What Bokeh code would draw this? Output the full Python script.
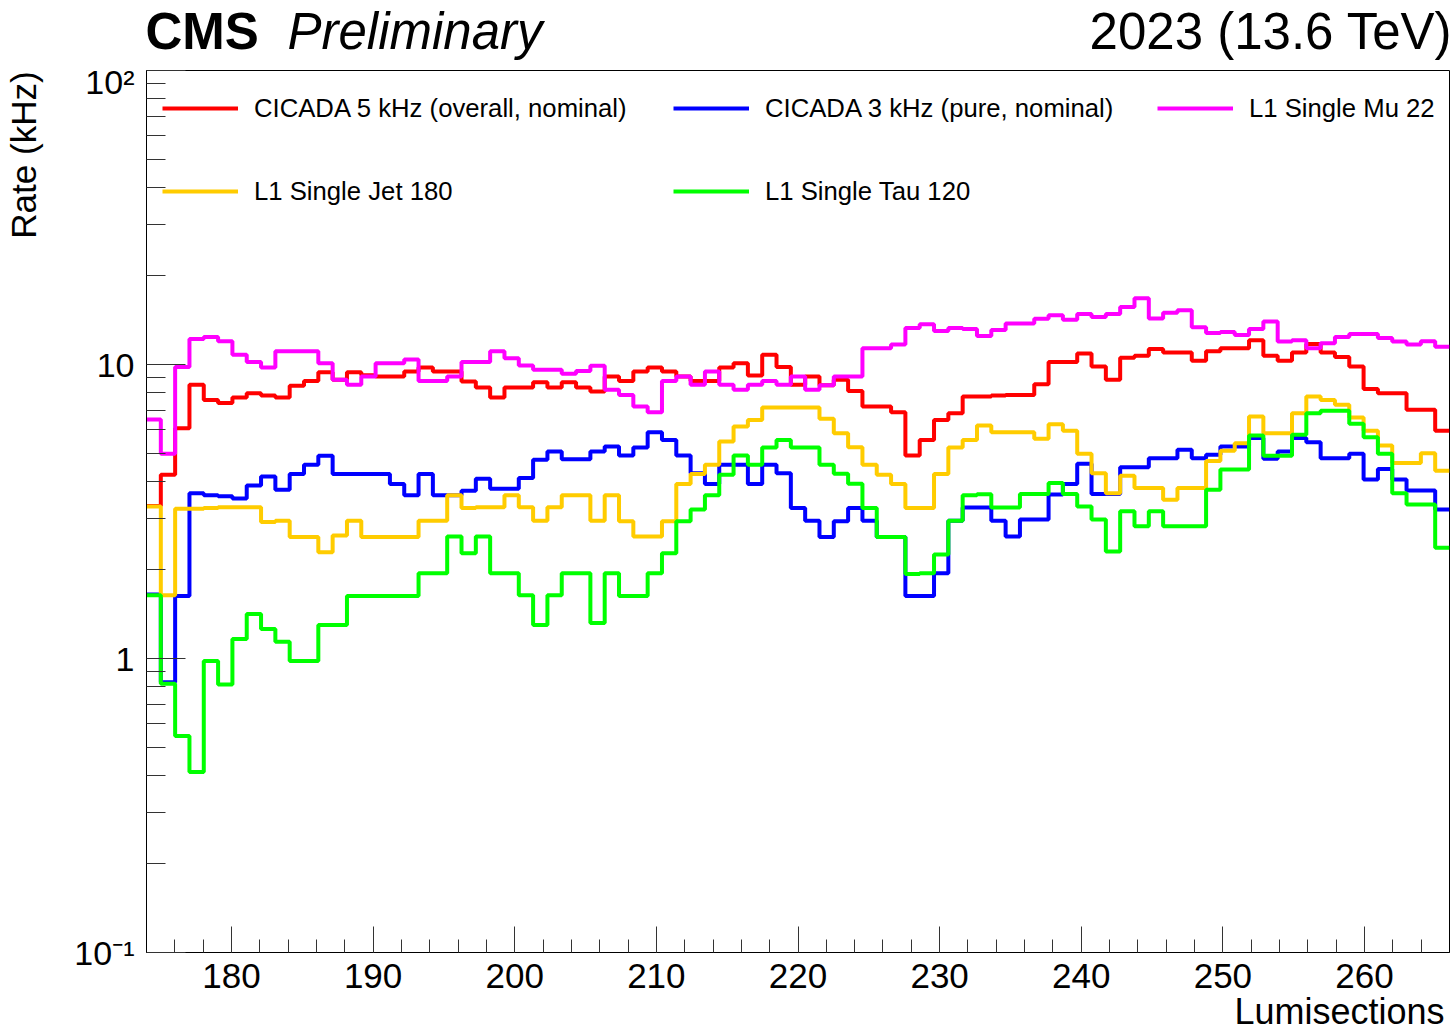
import numpy as np
from bokeh.plotting import figure
from bokeh.layouts import column, row
from bokeh.models import (Range1d, FixedTicker, Label, Legend, LegendItem, Title)
from bokeh.embed import file_html
from bokeh.resources import INLINE

# ---------------- data (rates in kHz per lumisection bin) ----------------
x_start, x_end = 174, 266
n_bins = 91

cicada_5khz = [3.3, 4.22, 6.07, 8.53, 7.58, 7.39, 7.72, 7.98, 7.84, 7.72,
               8.46, 8.79, 9.41, 8.87, 9.41, 9.2, 9.1, 9.1, 9.46, 9.76,
               9.46, 9.46, 8.75, 8.35, 7.72, 8.35, 8.35, 8.70, 8.35, 8.70,
               8.35, 8.09, 9.1, 8.79, 9.46, 9.76, 9.46, 9.1, 8.79, 8.79,
               9.76, 10.1, 9.17, 10.8, 9.8, 8.53, 9.1, 8.5, 8.87, 8.13,
               7.19, 7.19, 6.88, 4.90, 5.54, 6.48, 6.83, 7.78, 7.78, 7.84,
               7.88, 7.88, 8.57, 10.2, 10.2, 10.9, 9.84, 8.87, 10.55, 10.7,
               11.3, 10.98, 10.98, 10.3, 11.1, 11.35, 11.35, 12.1, 10.7, 10.3,
               10.98, 11.75, 10.98, 10.6, 9.84, 8.26, 7.98, 7.98, 7.01, 7.01,
               5.95]

cicada_3khz = [1.65, 0.83, 1.63, 3.65, 3.59, 3.56, 3.50, 3.88, 4.16, 3.75,
               4.24, 4.56, 4.89, 4.24, 4.24, 4.24, 4.24, 3.92, 3.59, 4.24,
               3.59, 3.59, 3.72, 4.09, 3.78, 3.78, 4.11, 4.74, 5.06, 4.76,
               4.76, 5.06, 5.26, 4.90, 5.22, 5.88, 5.54, 4.90, 4.27, 3.92,
               4.56, 4.56, 3.92, 4.56, 4.27, 3.25, 2.94, 2.59, 2.93, 3.25,
               2.94, 2.59, 2.59, 1.63, 1.63, 1.95, 2.94, 3.26, 3.26, 2.94,
               2.60, 2.97, 2.97, 3.61, 3.92, 4.60, 3.63, 3.63, 4.47, 4.47,
               4.80, 4.80, 5.13, 4.80, 4.93, 5.26, 5.26, 5.62, 4.78, 5.06,
               5.62, 5.44, 4.80, 4.80, 4.97, 4.06, 4.41, 4.06, 3.73, 3.73,
               3.21]

single_mu22 = [6.5, 4.97, 9.8, 12.2, 12.4, 12.0, 10.8, 10.2, 9.76, 11.1,
               11.1, 11.1, 10.1, 8.87, 8.53, 9.1, 10.1, 10.1, 10.4, 8.79,
               8.79, 9.1, 10.2, 10.2, 11.1, 10.5, 9.92, 9.59, 9.59, 9.31,
               9.5, 9.9, 8.2, 7.88, 7.19, 6.88, 8.79, 9.1, 8.53, 9.46,
               8.53, 8.2, 8.53, 8.79, 8.53, 9.1, 8.2, 8.5, 9.1, 9.1,
               11.35, 11.35, 11.7, 13.3, 13.7, 13.0, 13.3, 13.2, 12.5, 13.1,
               13.8, 13.8, 14.3, 14.7, 14.2, 14.85, 14.5, 14.85, 15.7, 16.8,
               14.35, 15.0, 15.3, 13.4, 12.8, 12.9, 12.6, 13.2, 14.0, 11.97,
               12.1, 11.35, 11.8, 12.4, 12.7, 12.7, 12.3, 11.97, 11.7, 12.0,
               11.5]

single_jet180 = [3.29, 1.64, 3.23, 3.23, 3.25, 3.27, 3.27, 3.27, 2.91, 2.94,
                 2.59, 2.59, 2.30, 2.62, 2.94, 2.59, 2.59, 2.59, 2.59, 2.94,
                 2.94, 3.59, 3.25, 3.27, 3.27, 3.59, 3.27, 2.94, 3.27, 3.59,
                 3.59, 2.94, 3.59, 2.93, 2.60, 2.60, 2.93, 3.92, 4.24, 4.56,
                 5.47, 6.15, 6.48, 7.14, 7.14, 7.14, 7.14, 6.54, 5.84, 5.23,
                 4.56, 4.22, 3.92, 3.25, 3.25, 4.24, 5.22, 5.54, 6.20, 5.88,
                 5.88, 5.88, 5.59, 6.26, 5.95, 4.97, 4.27, 3.65, 4.18, 3.80,
                 3.80, 3.47, 3.80, 3.80, 4.70, 5.09, 5.40, 6.65, 5.84, 5.84,
                 6.83, 7.78, 7.58, 7.29, 6.60, 5.95, 5.30, 4.62, 4.62, 4.99,
                 4.35]

single_tau120 = [1.64, 0.82, 0.545, 0.411, 0.98, 0.816, 1.166, 1.418, 1.26, 1.14,
                 0.98, 0.98, 1.30, 1.30, 1.63, 1.63, 1.63, 1.63, 1.63, 1.95,
                 1.95, 2.60, 2.28, 2.60, 1.95, 1.95, 1.64, 1.30, 1.64, 1.95,
                 1.95, 1.32, 1.95, 1.63, 1.63, 1.95, 2.28, 2.93, 3.21, 3.59,
                 4.22, 4.90, 4.56, 5.22, 5.54, 5.22, 5.22, 4.56, 4.25, 3.93,
                 3.25, 2.59, 2.59, 1.94, 1.95, 2.26, 2.94, 3.59, 3.62, 3.26,
                 3.26, 3.63, 3.63, 3.95, 3.63, 3.29, 2.97, 2.31, 3.17, 2.82,
                 3.17, 2.82, 2.82, 2.82, 3.75, 4.39, 4.39, 5.73, 4.89, 4.89,
                 5.77, 6.83, 6.96, 6.96, 6.29, 5.66, 4.97, 3.65, 3.34, 3.34,
                 2.38]

series_labels = ["CICADA 5 kHz (overall, nominal)", "CICADA 3 kHz (pure, nominal)",
                 "L1 Single Mu 22", "L1 Single Jet 180", "L1 Single Tau 120"]
series_values = [cicada_5khz, cicada_3khz, single_mu22, single_jet180, single_tau120]
series_colors = ["#FF0000", "#0000FF", "#FF00FF", "#FFCC00", "#00FF00"]

x_major_ticks = [180, 190, 200, 210, 220, 230, 240, 250, 260]
x_minor_ticks = list(range(176, 266, 2))
y_major_ticks = [0.1, 1, 10, 100]
y_minor_ticks = [k * 10.0 ** e for e in (-1, 0, 1) for k in range(2, 10)]
y_tick_labels = {0.1: "10\u207b\u00b9", 1: "1", 10: "10", 100: "10\u00b2"}
x_title = "Lumisections"
y_title = "Rate (kHz)"

FONT = "Liberation Sans"
W, H = 1453, 1031
HEADER_H, STRIP_W = 62, 50
MAIN_H = H - HEADER_H


def blank(width, height):
    f = figure(width=width, height=height, output_backend="svg", toolbar_location=None,
               x_range=Range1d(0, width), y_range=Range1d(0, height),
               x_axis_location=None, y_axis_location=None,
               min_border=0, min_border_left=0, min_border_right=0,
               min_border_top=0, min_border_bottom=0)
    f.grid.visible = False
    f.outline_line_color = None
    f.background_fill_color = "white"
    f.border_fill_color = "white"
    return f


# ---------------- main plot ----------------
p = figure(width=W - STRIP_W, height=MAIN_H, output_backend="svg",
           toolbar_location=None,
           x_range=Range1d(x_start, x_end), y_range=Range1d(0.1, 100),
           y_axis_type="log", min_border_left=96, min_border_right=4,
           min_border_top=8, min_border_bottom=79)
p.grid.visible = False
p.outline_line_color = "black"
p.outline_line_width = 1
p.background_fill_color = "white"
p.border_fill_color = "white"

edges = np.linspace(x_start, x_end, n_bins + 1)
renderers = []
for vals, col in zip(series_values, series_colors):
    yv = list(vals) + [vals[-1]]
    renderers.append(p.step(edges, yv, mode="after", line_width=4, line_color=col))

xa = p.xaxis[0]
xa.ticker = FixedTicker(ticks=x_major_ticks, minor_ticks=x_minor_ticks)
xa.major_tick_in = 26
xa.major_tick_out = 0
xa.minor_tick_in = 13
xa.minor_tick_out = 0
xa.major_label_text_font = FONT
xa.major_label_text_font_size = "35px"
xa.major_label_text_color = "black"
xa.major_label_standoff = 11
xa.axis_line_color = "black"
xa.major_tick_line_color = "#333333"
xa.minor_tick_line_color = "#333333"

ya = p.yaxis[0]
ya.ticker = FixedTicker(ticks=y_major_ticks, minor_ticks=y_minor_ticks)
ya.major_label_overrides = y_tick_labels
ya.major_tick_in = 39
ya.major_tick_out = 0
ya.minor_tick_in = 19
ya.minor_tick_out = 0
ya.major_label_text_font = FONT
ya.major_label_text_font_size = "34px"
ya.major_label_text_color = "black"
ya.major_label_standoff = 12
ya.axis_line_color = "black"
ya.major_tick_line_color = "#333333"
ya.minor_tick_line_color = "#333333"

# x-axis title, right-aligned under the axis
p.add_layout(Title(text=x_title, align="right", offset=5, standoff=-3,
                   text_font=FONT, text_font_size="36px", text_font_style="normal",
                   text_color="black"), "below")


def make_legend(idx, loc):
    items = [LegendItem(label=series_labels[i], renderers=[renderers[i]]) for i in idx]
    lg = Legend(items=items, location=loc, orientation="vertical",
                label_text_font=FONT, label_text_font_size="25.7px",
                label_text_color="black", glyph_width=76, glyph_height=30,
                label_height=30, label_standoff=16, spacing=53, padding=0,
                margin=0, background_fill_alpha=0, border_line_alpha=0)
    p.add_layout(lg, "center")


make_legend([0, 3], (16, 746))
make_legend([1, 4], (527, 746))
make_legend([2], (1011, 829))

# ---------------- header ----------------
header = blank(W, HEADER_H)
header.add_layout(Label(x=145, y=31.5, text="CMS", text_font=FONT, text_font_style="bold",
                        text_font_size="51px", text_baseline="alphabetic",
                        text_align="left", text_color="black"))
header.add_layout(Label(x=287, y=31.5, text="Preliminary", text_font=FONT,
                        text_font_style="italic", text_font_size="51px",
                        text_baseline="alphabetic", text_align="left", text_color="black"))
header.add_layout(Label(x=1452, y=31.5, text="2023 (13.6 TeV)", text_font=FONT,
                        text_font_size="51px", text_baseline="alphabetic",
                        text_align="right", text_color="black"))

# ---------------- left strip (y title) ----------------
strip = blank(STRIP_W, MAIN_H)
strip.add_layout(Label(x=23, y=MAIN_H - 1, text=y_title, angle=90, angle_units="deg",
                       text_font=FONT, text_font_size="35px", text_baseline="alphabetic",
                       text_align="right", text_color="black"))

layout = column(header, row(strip, p, spacing=0), spacing=0)

open("out.html", "w").write(file_html(layout, INLINE))
